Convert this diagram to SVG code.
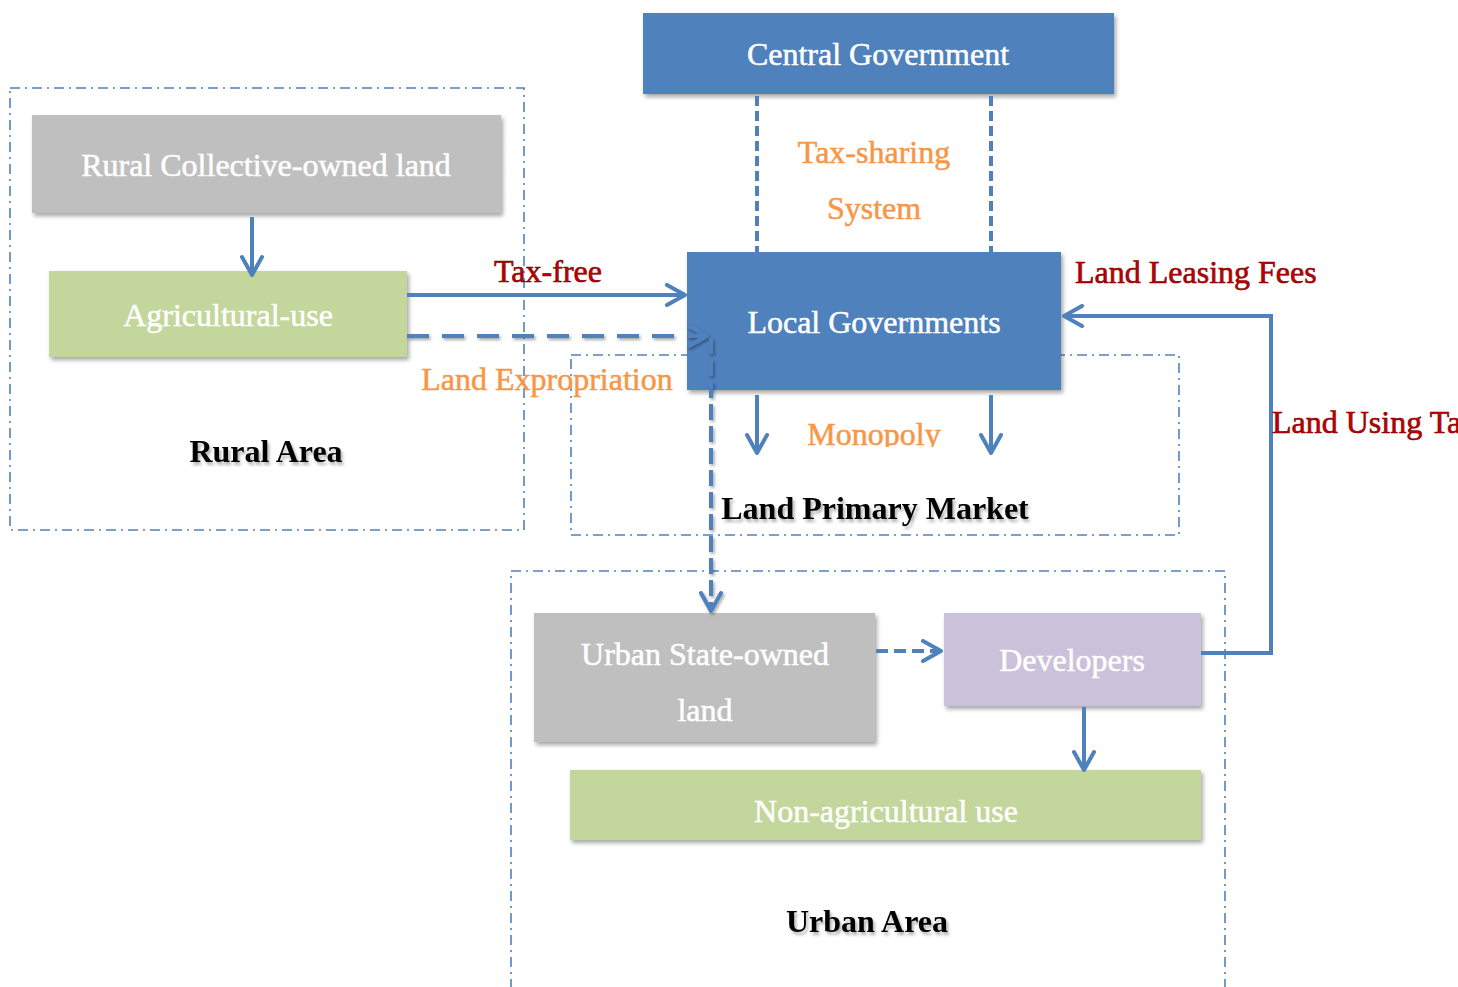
<svg xmlns="http://www.w3.org/2000/svg" width="1458" height="987" viewBox="0 0 1458 987">
<defs>
<style>
.area{fill:none;stroke:#4f81bd;stroke-width:1.6;stroke-dasharray:10 5 2 5}
.wt{font-family:"Liberation Serif","Times New Roman",serif;font-size:32px;fill:#ffffff;stroke:#ffffff;stroke-width:0.5;text-anchor:middle}
.bt{font-family:"Liberation Serif","Times New Roman",serif;font-size:32px;font-weight:bold;fill:#000000;text-anchor:middle}
.rt{font-family:"Liberation Serif","Times New Roman",serif;font-size:32px;fill:#c00000;stroke:#7a0000;stroke-width:0.6}
.ot{font-family:"Liberation Serif","Times New Roman",serif;font-size:32px;fill:#f79646;stroke:#f79646;stroke-width:0.5;text-anchor:middle}
.ln{fill:none;stroke:#4f81bd;stroke-width:4}
.blue{fill:#4f81bd}
.gray{fill:#bfbfbf}
.green{fill:#c3d69b}
.purple{fill:#ccc1da}
</style>
<filter id="sh" x="-10%" y="-10%" width="125%" height="140%">
<feDropShadow dx="2" dy="3" stdDeviation="2" flood-color="#000" flood-opacity="0.35"/>
</filter>
<filter id="lsh" filterUnits="userSpaceOnUse" x="0" y="0" width="1458" height="987">
<feDropShadow dx="1.5" dy="2" stdDeviation="1.5" flood-color="#000" flood-opacity="0.35"/>
</filter>
<filter id="tsh" x="-10%" y="-30%" width="125%" height="170%">
<feDropShadow dx="2" dy="3" stdDeviation="1.5" flood-color="#000" flood-opacity="0.3"/>
</filter>
<marker id="ah" viewBox="0 0 24 24" refX="21" refY="12" markerWidth="24" markerHeight="24" markerUnits="userSpaceOnUse" orient="auto">
<path d="M3,2 L21,12 L3,22" fill="none" stroke="#4f81bd" stroke-width="4" stroke-linecap="round" stroke-linejoin="round"/>
</marker>
<clipPath id="monoClip"><rect x="780" y="400" width="200" height="47"/></clipPath>
</defs>

<g id="areas">
<rect id="rural-area" class="area" x="10" y="88" width="514" height="442"/>
<rect id="primary-market-area" class="area" x="571" y="355" width="608" height="180"/>
<rect id="urban-area" class="area" x="511" y="571" width="714" height="430"/>
</g>

<g id="central-government">
<rect class="blue" x="643" y="13" width="471" height="81" filter="url(#sh)"/>
<text class="wt" x="878" y="65">Central Government</text>
</g>

<g id="rural-collective-land">
<rect class="gray" x="32" y="115" width="469" height="98" filter="url(#sh)"/>
<text class="wt" x="266" y="176">Rural Collective-owned land</text>
</g>

<g id="agricultural-use">
<rect class="green" x="49" y="271" width="358" height="86" filter="url(#sh)"/>
<text class="wt" x="228" y="326">Agricultural-use</text>
</g>

<g id="local-governments">
<rect class="blue" x="687" y="252" width="374" height="138" filter="url(#sh)"/>
<text class="wt" x="874" y="333">Local Governments</text>
</g>

<g id="urban-state-land">
<rect class="gray" x="534" y="613" width="341" height="129" filter="url(#sh)"/>
<text class="wt" x="705" y="665">Urban State-owned</text>
<text class="wt" x="705" y="721">land</text>
</g>

<g id="developers">
<rect class="purple" x="944" y="613" width="257" height="93" filter="url(#sh)"/>
<text class="wt" x="1072" y="671">Developers</text>
</g>

<g id="non-agricultural-use">
<rect class="green" x="570" y="770" width="631" height="70" filter="url(#sh)"/>
<text class="wt" x="886" y="822">Non-agricultural use</text>
</g>

<g id="connectors">
<line class="ln" x1="757" y1="96" x2="757" y2="252" stroke-dasharray="10 5"/>
<line class="ln" x1="991" y1="96" x2="991" y2="252" stroke-dasharray="10 5"/>
<line class="ln" x1="252" y1="217" x2="252" y2="275" marker-end="url(#ah)"/>
<line class="ln" x1="407" y1="295" x2="685" y2="295" marker-end="url(#ah)"/>
<g filter="url(#lsh)">
<line class="ln" x1="407" y1="336" x2="707" y2="336" stroke-dasharray="22 13" marker-end="url(#ah)"/>
<line class="ln" x1="711" y1="338" x2="711" y2="611" stroke-dasharray="16 6" marker-end="url(#ah)"/>
</g>
<line class="ln" x1="757" y1="395" x2="757" y2="453" marker-end="url(#ah)"/>
<line class="ln" x1="991" y1="395" x2="991" y2="453" marker-end="url(#ah)"/>
<polyline class="ln" points="1201,653 1271,653 1271,316 1064,316" marker-end="url(#ah)"/>
<line class="ln" x1="876" y1="651" x2="941" y2="651" stroke-dasharray="12 6" marker-end="url(#ah)"/>
<line class="ln" x1="1084" y1="707" x2="1084" y2="770" marker-end="url(#ah)"/>
</g>

<g id="labels">
<text class="bt" x="266" y="462" filter="url(#tsh)">Rural Area</text>
<text class="bt" x="875" y="519" filter="url(#tsh)">Land Primary Market</text>
<text class="bt" x="867" y="932" filter="url(#tsh)">Urban Area</text>
<text class="rt" x="548" y="282" text-anchor="middle">Tax-free</text>
<text class="rt" x="1075" y="283">Land Leasing Fees</text>
<text class="rt" x="1272" y="433">Land Using Tax</text>
<text class="ot" x="547" y="390">Land Expropriation</text>
<text class="ot" x="874" y="163">Tax-sharing</text>
<text class="ot" x="874" y="219">System</text>
<text class="ot" x="874" y="445" clip-path="url(#monoClip)">Monopoly</text>
</g>
</svg>
